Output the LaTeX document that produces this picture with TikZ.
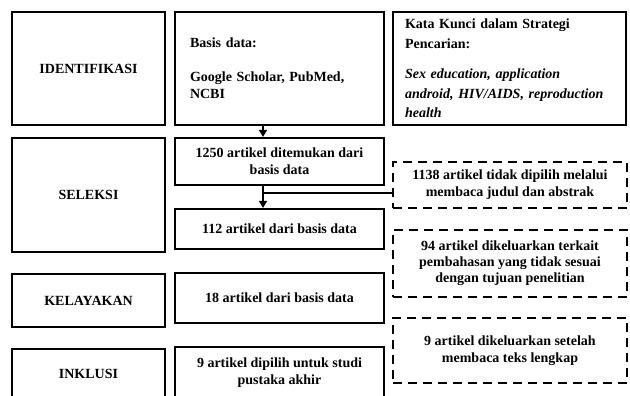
\documentclass[tikz,border=0pt]{standalone}
\usepackage{fontspec}
\setmainfont{Liberation Serif}
\usetikzlibrary{arrows.meta}
\begin{document}
\begin{tikzpicture}[x=1pt, y=-1pt, line width=2.2pt, font=\fontsize{14}{17}\selectfont\bfseries,
    main/.style = {draw, rectangle, inner sep=0pt, align=center},
    dbox/.style = {main, dash pattern=on 9pt off 6pt, minimum width=234, line width=2.3pt},
    arr/.style = {-{Triangle[length=7pt,width=8pt]}, line width=1.6pt}]
      \useasboundingbox (0,0) rectangle (630,396);
      \clip (0,0) rectangle (630,396);
      \node[main, minimum width=153, minimum height=113] (1) at (88.5,68.5) {IDENTIFIKASI};
      \node[main, minimum width=153, minimum height=114] (2) at (88.5,195) {SELEKSI};
      \node[main, minimum width=153, minimum height=53] (3) at (88.5,300.5) {KELAYAKAN};
      \node[main, minimum width=153, minimum height=50] (4) at (88.5,374) {INKLUSI};
      \node[main, align=left, text width=179, inner xsep=15, minimum height=113] (5) at (279.5,68.5)
        {Basis data:\\[17pt]Google Scholar, PubMed,\\NCBI};
      \node[main, minimum width=209, minimum height=47] (6) at (279.5,161.5) {1250 artikel ditemukan dari\\basis data};
      \node[main, minimum width=209, minimum height=40] (7) at (279.5,229) {112 artikel dari basis data};
      \node[main, minimum width=209, minimum height=50] (8) at (279.5,298) {18 artikel dari basis data};
      \node[main, minimum width=209, minimum height=52] (9) at (279.5,373) {9 artikel dipilih untuk studi\\pustaka akhir};
      \node[main, align=left, text width=209, inner xsep=12, minimum height=113,
        font=\fontsize{14}{19.5}\selectfont\bfseries] (10) at (509.5,68.5)
        {Kata Kunci dalam Strategi\\Pencarian:\\[11pt]\textit{Sex education, application}\\
         \textit{android, HIV/AIDS, reproduction}\\\textit{health}};
      \node[dbox, minimum height=46] (11) at (510,185) {1138 artikel tidak dipilih melalui\\membaca judul dan abstrak};
      \node[dbox, minimum height=67, font=\fontsize{14}{16}\selectfont\bfseries] (12) at (510,263.5)
        {94 artikel dikeluarkan terkait\\pembahasan yang tidak sesuai\\dengan tujuan penelitian};
      \node[dbox, minimum height=65] (13) at (510,350.5) {9 artikel dikeluarkan setelah\\membaca teks lengkap};
      \coordinate (a) at (263,193);
      \draw[arr] (5.south -| a) -- (6.north -| a);
      \draw[arr] (6.south -| a) -- (7.north -| a);
      \draw[line width=1.6pt] (a) -- (a -| 11.west);
    \end{tikzpicture}
\end{document}
